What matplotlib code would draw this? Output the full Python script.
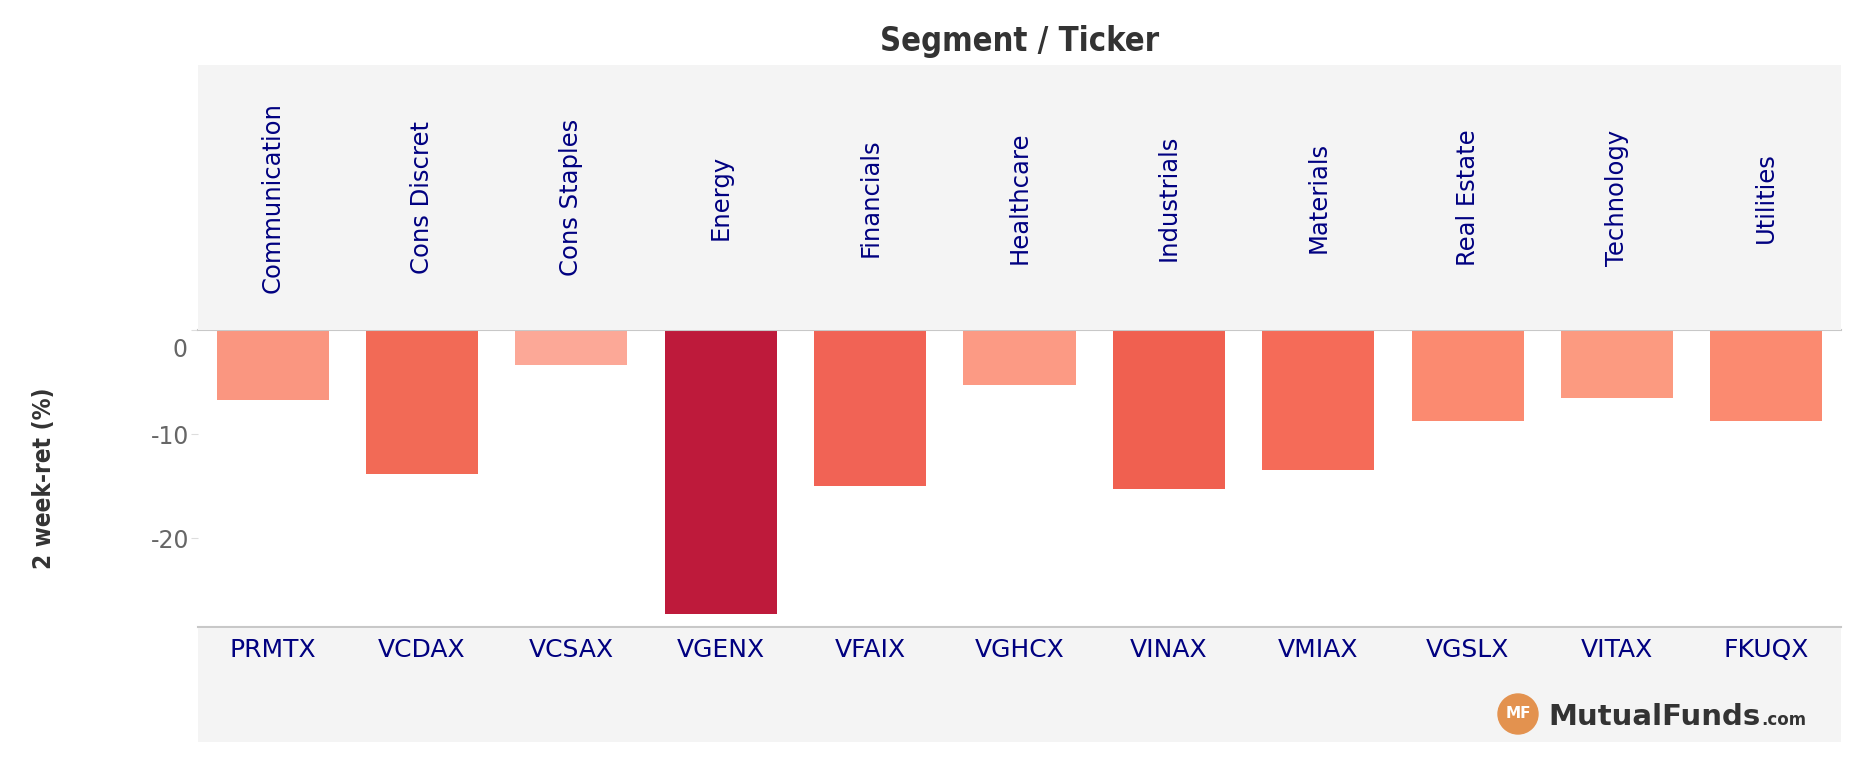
import matplotlib
matplotlib.use("Agg")
import matplotlib.pyplot as plt
from matplotlib.patches import Circle
from matplotlib.transforms import IdentityTransform

segments = ['Communication', 'Cons Discret', 'Cons Staples', 'Energy', 'Financials', 'Healthcare',
            'Industrials', 'Materials', 'Real Estate', 'Technology', 'Utilities']
tickers = ['PRMTX', 'VCDAX', 'VCSAX', 'VGENX', 'VFAIX', 'VGHCX', 'VINAX', 'VMIAX', 'VGSLX', 'VITAX', 'FKUQX']
returns = [-6.7, -13.8, -3.4, -27.3, -15.0, -5.3, -15.3, -13.4, -8.7, -6.5, -8.7]
bar_colors = ['#fa9680', '#f26a56', '#fca897', '#be1a3b', '#f16355', '#fc9a84',
              '#f06050', '#f56b58', '#fb8a70', '#fc9a80', '#fb8a70']

W, H = 1856, 758
fig = plt.figure(figsize=(W / 100, H / 100), dpi=100)
fig.patch.set_facecolor('white')

left, right = 198, 1841
zero_y, bottom_y = 330, 627
head_top, foot_bot = 65, 742
grey = '#f4f4f4'
line_col = '#c8c8c8'

def box(x0, y0, x1, y1):
    # pixel box (top-left origin) -> figure fraction rect
    return [x0 / W, 1 - y1 / H, (x1 - x0) / W, (y1 - y0) / H]

x = list(range(len(tickers)))

# main bar area
ax = fig.add_axes(box(left, zero_y, right, bottom_y))
ax.bar(x, returns, width=0.75, color=bar_colors)
ax.set_xlim(-0.5, len(x) - 0.5)
ax.set_ylim(-28.5, 0)
ax.set_xticks([])
ax.set_yticks([0, -10, -20])
ax.set_yticklabels(['', '-10', '-20'], fontsize=17, color='#666666')
ax.tick_params(axis='y', length=5, color='#dddddd', pad=1)
# Tableau drops the top label just under the zero line
ax.annotate('0', xy=(0, 0), xycoords=('axes fraction', 'data'), xytext=(-10, -20),
            textcoords='offset pixels', ha='right', va='center', fontsize=17, color='#666666')
for s in ['left', 'right']:
    ax.spines[s].set_visible(False)
for s in ['top', 'bottom']:
    ax.spines[s].set_color(line_col)
    ax.spines[s].set_linewidth(1.5)

# header band with segment names
hx = fig.add_axes(box(left, head_top, right, zero_y))
hx.set_xlim(-0.5, len(x) - 0.5)
hx.set_ylim(0, 1)
hx.axis('off')
hx.add_patch(plt.Rectangle((0, 0), 1, 1, transform=hx.transAxes, color=grey, zorder=0))
for i, seg in enumerate(segments):
    hx.text(i, 0.5, seg, rotation=90, ha='center', va='center', fontsize=17.5, color='#000080')

# footer band with tickers
fx = fig.add_axes(box(left, bottom_y + 1, right, foot_bot))
fx.set_xlim(-0.5, len(x) - 0.5)
fx.set_ylim(0, 1)
fx.axis('off')
fx.add_patch(plt.Rectangle((0, 0), 1, 1, transform=fx.transAxes, color=grey, zorder=0))
for i, t in enumerate(tickers):
    fx.text(i, 0.81, t, ha='center', va='center', fontsize=18, color='#000080')

# titles
fig.text((left + right) / 2 / W, 1 - 42 / H, 'Segment / Ticker', ha='center', va='center',
         fontsize=23.5, fontweight='bold', color='#333333',
         family=['DejaVu Sans Condensed', 'DejaVu Sans'], fontstretch='condensed')
fig.text(44 / W, 1 - 478 / H, '2 week-ret (%)', rotation=90, ha='center', va='center',
         fontsize=17.5, fontweight='bold', color='#333333',
         family=['DejaVu Sans Condensed', 'DejaVu Sans'], fontstretch='condensed')

# logo
fig.add_artist(Circle((1518, H - 714), 20, transform=IdentityTransform(), color='#e3924f'))
fig.text(1518 / W, 1 - 714 / H, 'MF', ha='center', va='center', fontsize=11,
         fontweight='bold', color='white')
fig.text(1548 / W, 1 - 725 / H, 'MutualFunds', ha='left', va='baseline', fontsize=21,
         fontweight='bold', color='#333333')
fig.text(1761 / W, 1 - 725 / H, '.com', ha='left', va='baseline', fontsize=12,
         fontweight='bold', color='#333333')

fig.savefig('out.png', dpi=100)
